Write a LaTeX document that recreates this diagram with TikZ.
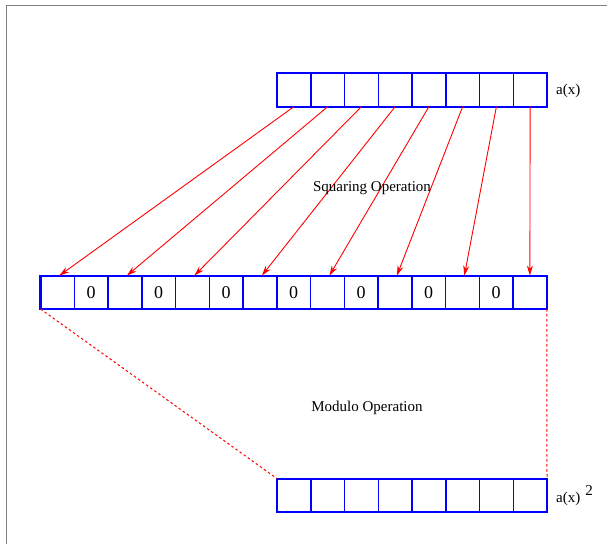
\documentclass[tikz,border=0pt]{standalone}
\usepackage{fontspec}
\setmainfont{Liberation Serif}
\usetikzlibrary{arrows.meta,calc}
\begin{document}
\begin{tikzpicture}[x=1pt,y=-1pt,
 cell/.style={draw=blue, line width=1.5pt, minimum width=33.75pt, minimum height=33.4pt, inner sep=0pt, outer sep=0pt, font=\fontsize{18}{18}\selectfont},
 arrframe/.style={draw=blue, line width=2.2pt},
 sq/.style={draw=red, line width=0.9pt, -{Stealth[length=10pt,width=6pt]}},
 dsh/.style={draw=red, line width=1pt, dash pattern=on 2.5pt off 2.5pt},
 lbl/.style={font=\fontsize{15}{15}\selectfont, inner sep=0pt}]
\useasboundingbox (0,0) rectangle (607,544);
\draw[gray, line width=1.5pt] (6.5,544) -- (6.5,5.5) -- (607,5.5);
% top array a(x)
\foreach \i in {0,...,7} \node[cell] (t\i) at ({277+16.875+33.75*\i},90) {};
\draw[arrframe] (t0.north west) rectangle (t7.south east);
% middle array
\foreach \i in {0,2,...,14} \node[cell] (m\i) at ({40.5+16.875+33.75*\i},292.3) {};
\foreach \i in {1,3,...,13} \node[cell] (m\i) at ({40.5+16.875+33.75*\i},292.3) {0};
\draw[arrframe] (m0.north west) rectangle (m14.south east);
% bottom array
\foreach \i in {0,...,7} \node[cell] (b\i) at ({277+16.875+33.75*\i},495.3) {};
\draw[arrframe] (b0.north west) rectangle (b7.south east);
% squaring arrows
\foreach \i [evaluate=\i as \j using int(2*\i)] in {0,...,6}
  \draw[sq] (t\i.south) -- ([xshift=2pt]m\j.north);
\draw[sq] (t7.south) -- (m14.north);
% modulo dashed lines
\draw[dsh] (m0.south west) -- (b0.north west);
\draw[dsh] (m14.south east) -- (b7.north east);
% labels
\node[lbl] (sqop) at (372,188) {Squaring Operation};
\node[lbl] (modop) at (367,408) {Modulo Operation};
\node[lbl, anchor=west] (ax) at (556,91) {a(x)};
\node[lbl, anchor=west] (ax2) at (556,496) {a(x)\hspace{5pt}\raisebox{7pt}{2}};
\end{tikzpicture}
\end{document}
